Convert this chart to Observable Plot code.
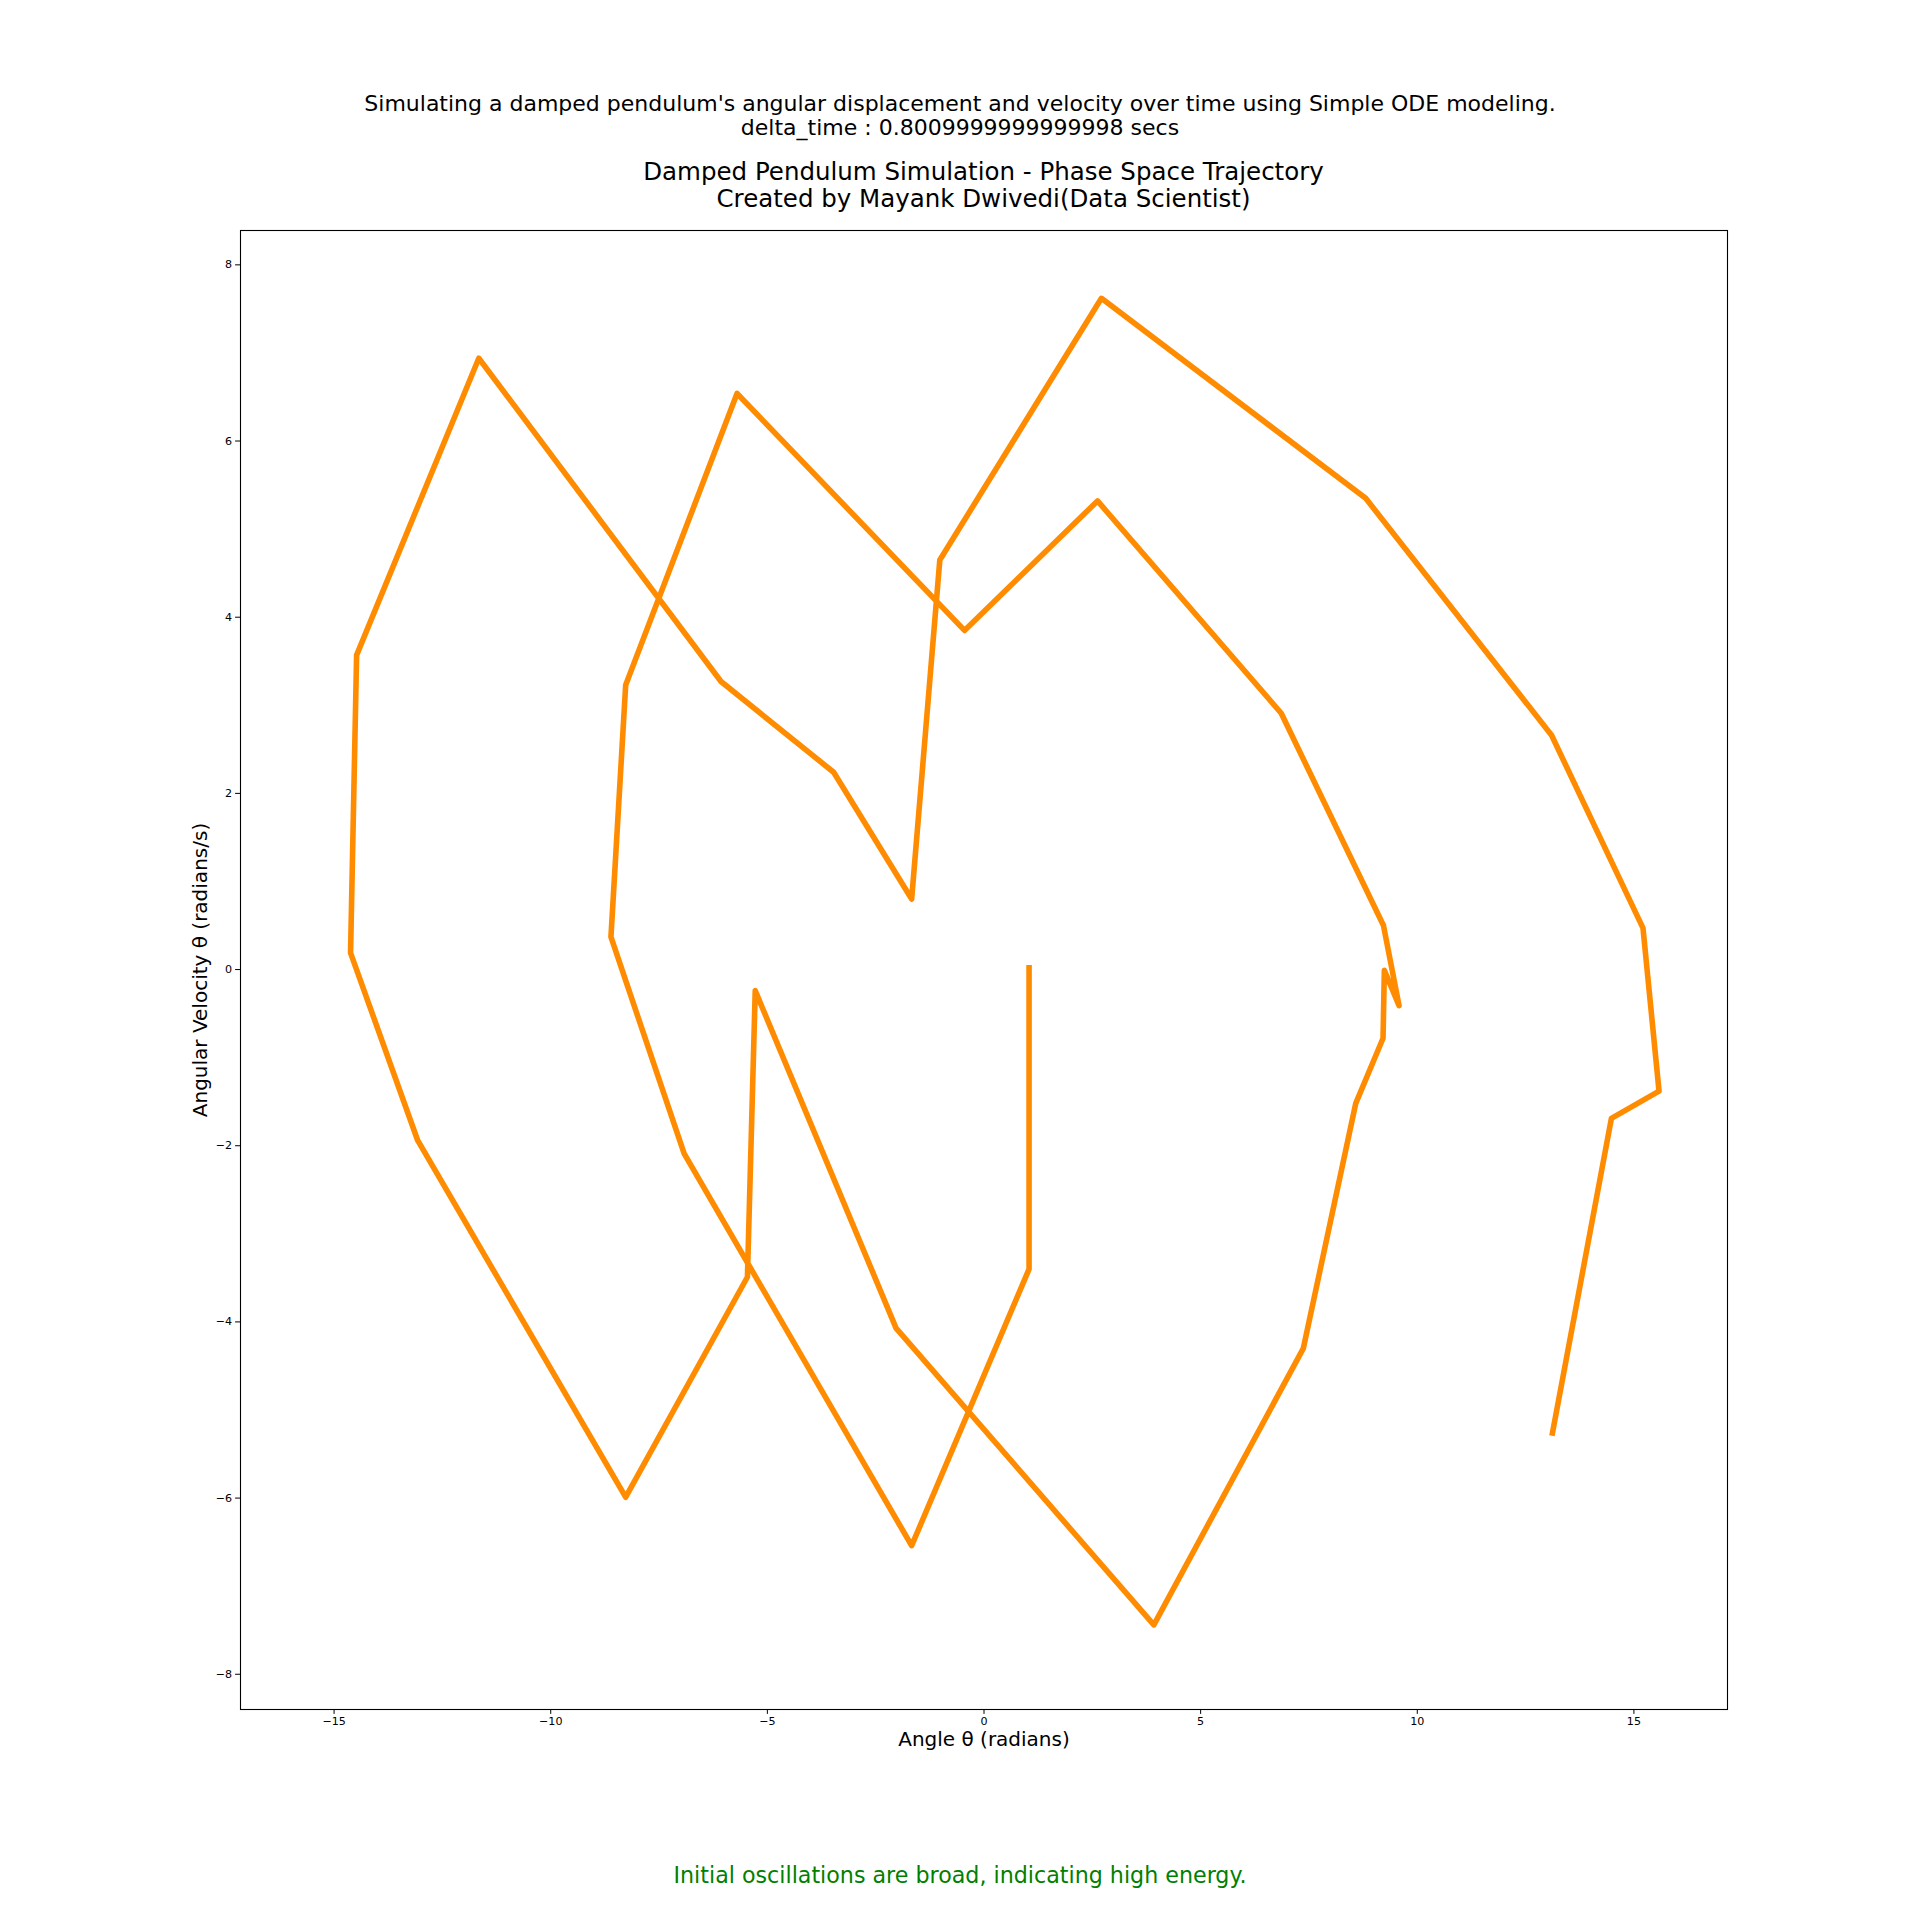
<!DOCTYPE html>
<html>
<head>
<meta charset="utf-8">
<script src="https://cdn.jsdelivr.net/npm/d3@7"></script>
<script src="https://cdn.jsdelivr.net/npm/@observablehq/plot@0.6"></script>
<style>
  html, body { margin: 0; padding: 0; background: #fff; }
  #fig { position: relative; width: 1920px; height: 1920px; font-family: "DejaVu Sans", sans-serif; color: #000; }
  #fig .t { position: absolute; left: 0; width: 1920px; text-align: center; white-space: pre; }
  #chart { position: absolute; left: 0; top: 0; }
</style>
</head>
<body>
<div id="fig">
  <div id="chart"></div>
  <div class="t" style="top:92.2px; font-size:22px; line-height:24.2px;">Simulating a damped pendulum's angular displacement and velocity over time using Simple ODE modeling.<br>delta_time : 0.8009999999999998 secs</div>
  <div class="t" style="top:158.2px; left:240px; width:1487px; font-size:24.5px; line-height:27.3px;">Damped Pendulum Simulation - Phase Space Trajectory<br>Created by Mayank Dwivedi(Data Scientist)</div>
  <div class="t" style="top:1860px; font-size:22.2px; line-height:30px; color:#008000;">Initial oscillations are broad, indicating high energy.</div>
</div>
<script>
// Phase-space trajectory (in path order)
const theta = [1.04, 1.04, -1.67, -6.92, -8.61, -8.27, -5.70, -0.45, 2.62, 6.86, 9.22, 9.58, 9.24, 9.21, 8.58, 7.37, 3.92, -2.03, -5.28, -5.46, -8.27, -13.07, -14.62, -14.48, -11.66, -6.07, -3.47, -1.67, -1.02, 2.71, 8.81, 13.10, 15.21, 15.58, 14.48, 13.12];
const omega = [0.02, -3.40, -6.54, -2.09, 0.37, 3.23, 6.54, 3.85, 5.32, 2.91, 0.50, -0.41, -0.01, -0.78, -1.52, -4.30, -7.44, -4.07, -0.24, -3.49, -5.99, -1.94, 0.19, 3.57, 6.94, 3.27, 2.24, 0.80, 4.65, 7.62, 5.35, 2.66, 0.47, -1.38, -1.69, -5.26];
const xTicks = [-15, -10, -5, 0, 5, 10, 15];
const yTicks = [-8, -6, -4, -2, 0, 2, 4, 6, 8];
const xLabel = "Angle θ (radians)";
const yLabel = "Angular Velocity θ (radians/s)";

const data = theta.map((t, i) => ({theta: t, omega: omega[i]}));

const chart = Plot.plot({
  width: 1920,
  height: 1920,
  marginLeft: 240,
  marginRight: 193,
  marginTop: 230,
  marginBottom: 211,
  style: {fontFamily: "DejaVu Sans, sans-serif", background: "transparent", color: "#000"},
  x: {domain: [-17.16, 17.16]},
  y: {domain: [-8.40, 8.39]},
  marks: [
    Plot.line(data, {x: "theta", y: "omega", stroke: "#ff8c00", strokeWidth: 5.6, strokeLinecap: "square", strokeLinejoin: "round", curve: "linear"}),
    Plot.frame({stroke: "#000", strokeWidth: 1.1}),
    Plot.axisX({ticks: xTicks, tickSize: 4.9, tickPadding: 3, fontSize: 11.1, label: null, tickFormat: d3.format("d")}),
    Plot.axisY({ticks: yTicks, tickSize: 4.9, tickPadding: 3.5, fontSize: 11.1, label: null, tickFormat: d3.format("d")}),
    Plot.text([xLabel], {frameAnchor: "bottom", dy: 30, fontSize: 20, lineAnchor: "middle", textAnchor: "middle", fill: "#000"}),
    Plot.text([yLabel], {frameAnchor: "left", dx: -40, rotate: -90, fontSize: 20, lineAnchor: "middle", textAnchor: "middle", fill: "#000"})
  ]
});
document.getElementById("chart").appendChild(chart);
</script>
</body>
</html>
